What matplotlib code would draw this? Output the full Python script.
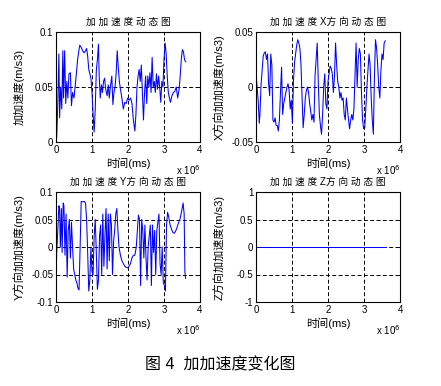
import numpy as np
import matplotlib
matplotlib.use('Agg')
import matplotlib.pyplot as plt
from matplotlib.ticker import FuncFormatter

plt.rcParams['font.family'] = ['Liberation Sans', 'Noto Sans CJK SC']
plt.rcParams['axes.unicode_minus'] = False

# time in units of 1e6 ms
ta = [0.00, 0.02, 0.05, 0.08, 0.10, 0.13, 0.16, 0.19, 0.21, 0.24,
      0.27, 0.30, 0.33, 0.36, 0.40, 0.43, 0.46, 0.50, 0.53, 0.56,
      0.60, 0.63, 0.66, 0.70, 0.74, 0.78, 0.82, 0.85, 0.88, 0.91,
      0.94, 0.97, 1.00, 1.03, 1.06, 1.09, 1.12, 1.15, 1.18, 1.20,
      1.23, 1.26, 1.29, 1.32, 1.35, 1.38, 1.42, 1.45, 1.48, 1.51,
      1.55, 1.58, 1.61, 1.64, 1.67, 1.70, 1.73, 1.76, 1.79, 1.83,
      1.87, 1.91, 1.95, 1.99, 2.03, 2.07, 2.11, 2.15, 2.19, 2.22,
      2.25, 2.28, 2.31, 2.34, 2.37, 2.40, 2.43, 2.46, 2.49, 2.52,
      2.55, 2.58, 2.61, 2.64, 2.67, 2.70, 2.73, 2.76, 2.79, 2.82,
      2.85, 2.88, 2.91, 2.94, 2.97, 3.00, 3.03, 3.06, 3.09, 3.12,
      3.15, 3.18, 3.22, 3.26, 3.30, 3.34, 3.38, 3.42, 3.45, 3.48,
      3.51, 3.54, 3.57, 3.60]
jerk = [0.068, 0.004, 0.035, 0.080, 0.022, 0.050, 0.030, 0.083, 0.040, 0.083,
        0.035, 0.055, 0.040, 0.062, 0.063, 0.033, 0.045, 0.040, 0.050, 0.060,
        0.075, 0.082, 0.088, 0.086, 0.083, 0.081, 0.083, 0.085, 0.078, 0.066,
        0.062, 0.058, 0.045, 0.025, 0.009, 0.030, 0.065, 0.075, 0.089, 0.060,
        0.040, 0.052, 0.045, 0.055, 0.058, 0.048, 0.042, 0.052, 0.040, 0.050,
        0.060, 0.034, 0.045, 0.050, 0.062, 0.083, 0.068, 0.055, 0.048, 0.040,
        0.030, 0.036, 0.035, 0.040, 0.038, 0.040, 0.035, 0.020, 0.010, 0.025,
        0.050, 0.060, 0.066, 0.055, 0.070, 0.045, 0.020, 0.045, 0.060, 0.035,
        0.060, 0.050, 0.063, 0.045, 0.077, 0.050, 0.055, 0.045, 0.062, 0.048,
        0.060, 0.050, 0.036, 0.055, 0.050, 0.075, 0.090, 0.080, 0.060, 0.045,
        0.040, 0.036, 0.042, 0.045, 0.046, 0.050, 0.040, 0.048, 0.060, 0.075,
        0.084, 0.082, 0.075, 0.073]

tb = [0.00, 0.03, 0.06, 0.09, 0.11, 0.14, 0.17, 0.20, 0.23, 0.26,
      0.29, 0.32, 0.35, 0.38, 0.41, 0.44, 0.47, 0.50, 0.53, 0.56,
      0.59, 0.62, 0.65, 0.68, 0.71, 0.74, 0.77, 0.80, 0.83, 0.86,
      0.89, 0.92, 0.95, 0.98, 1.01, 1.04, 1.07, 1.10, 1.13, 1.16,
      1.19, 1.22, 1.25, 1.28, 1.31, 1.34, 1.37, 1.40, 1.43, 1.46,
      1.49, 1.52, 1.55, 1.58, 1.61, 1.64, 1.67, 1.70, 1.73, 1.76,
      1.79, 1.82, 1.85, 1.88, 1.91, 1.94, 1.97, 2.00, 2.03, 2.06,
      2.09, 2.12, 2.15, 2.18, 2.21, 2.24, 2.27, 2.30, 2.33, 2.36,
      2.39, 2.42, 2.45, 2.48, 2.51, 2.54, 2.57, 2.60, 2.63, 2.66,
      2.69, 2.72, 2.75, 2.78, 2.81, 2.84, 2.87, 2.90, 2.93, 2.96,
      2.99, 3.02, 3.05, 3.08, 3.11, 3.14, 3.17, 3.20, 3.23, 3.26,
      3.29, 3.32, 3.35, 3.38, 3.41, 3.44, 3.47, 3.50, 3.53, 3.56, 3.59]
jerk_x = [0.012, 0.000, -0.012, -0.033, -0.025, 0.002, 0.015, 0.028, 0.031, 0.032,
          0.025, 0.030, 0.003, -0.008, 0.030, 0.020, -0.030, -0.032, -0.028, -0.035,
          -0.035, -0.040, -0.030, -0.005, 0.018, -0.025, -0.015, -0.010, -0.005, 0.000,
          0.003, -0.003, -0.020, -0.012, -0.033, 0.005, 0.022, 0.030, 0.038, 0.043,
          0.040, 0.035, 0.020, -0.010, -0.037, -0.025, -0.010, -0.003, 0.000, -0.005,
          -0.015, -0.022, -0.030, -0.025, -0.032, 0.010, 0.025, 0.040, 0.005, -0.025,
          -0.035, -0.043, -0.025, 0.000, 0.012, -0.015, -0.020, 0.005, 0.012, 0.019,
          0.017, 0.012, -0.005, 0.010, 0.040, 0.020, 0.005, 0.000, -0.010, -0.005,
          -0.012, -0.010, -0.025, -0.030, -0.010, -0.020, -0.030, -0.038, -0.030, -0.025,
          -0.030, -0.020, 0.010, 0.040, 0.000, 0.025, 0.035, 0.030, -0.005, -0.030,
          -0.038, -0.037, -0.020, 0.000, 0.015, 0.030, 0.020, -0.010, -0.030, -0.043,
          0.010, 0.043, 0.035, 0.020, 0.000, -0.010, 0.015, 0.030, 0.025, 0.040, 0.042]

tc = [0.00, 0.02, 0.05, 0.08, 0.10, 0.12, 0.15, 0.17, 0.20, 0.22,
      0.25, 0.28, 0.31, 0.34, 0.37, 0.40, 0.43, 0.46, 0.49, 0.52,
      0.55, 0.58, 0.61, 0.64, 0.67, 0.70, 0.74, 0.78, 0.82, 0.85,
      0.88, 0.91, 0.94, 0.97, 1.00, 1.03, 1.06, 1.09, 1.12, 1.15,
      1.18, 1.21, 1.24, 1.27, 1.30, 1.33, 1.36, 1.39, 1.42, 1.45,
      1.48, 1.51, 1.54, 1.57, 1.60, 1.63, 1.66, 1.69, 1.72, 1.75,
      1.79, 1.83, 1.87, 1.91, 1.95, 1.99, 2.03, 2.07, 2.11, 2.15,
      2.19, 2.23, 2.26, 2.29, 2.32, 2.35, 2.38, 2.41, 2.44, 2.47,
      2.50, 2.53, 2.56, 2.59, 2.62, 2.65, 2.68, 2.71, 2.74, 2.77,
      2.80, 2.83, 2.86, 2.89, 2.92, 2.95, 2.98, 3.01, 3.04, 3.07,
      3.10, 3.13, 3.17, 3.21, 3.25, 3.29, 3.33, 3.37, 3.41, 3.45,
      3.49, 3.53, 3.56, 3.58, 3.60]
jerk_y = [-0.060, -0.010, 0.030, 0.075, 0.070, 0.000, 0.070, -0.010, 0.080, 0.075,
          -0.015, 0.060, -0.055, 0.030, 0.050, -0.020, 0.045, 0.000, -0.040, -0.050,
          -0.060, -0.065, -0.075, -0.078, 0.000, 0.083, 0.082, 0.083, 0.080, 0.050,
          -0.010, -0.080, -0.060, 0.000, -0.045, -0.050, 0.020, 0.050, -0.010, -0.077,
          -0.060, 0.020, 0.040, -0.050, 0.060, -0.035, 0.020, 0.070, -0.040, 0.060,
          -0.025, 0.060, 0.040, -0.050, 0.010, 0.030, 0.060, 0.070, 0.030, 0.000,
          -0.015, -0.025, -0.030, -0.035, -0.037, -0.038, -0.035, -0.030, -0.020, -0.015,
          -0.015, 0.000, 0.030, 0.058, 0.050, -0.070, 0.050, 0.030, -0.020, 0.040,
          -0.020, -0.060, 0.000, 0.020, 0.040, -0.070, 0.040, -0.010, 0.030, -0.050,
          0.030, 0.045, 0.060, -0.030, -0.050, 0.000, -0.065, -0.070, -0.080, 0.040,
          0.063, 0.055, 0.040, 0.032, 0.026, 0.025, 0.030, 0.037, 0.045, 0.052,
          0.065, 0.080, 0.060, -0.045, -0.057]

tz = [0.00, 3.60]
jerk_z = [0.0, 0.0]

titles = ['加 加 速 度 动 态 图', '加 加 速 度 X方 向 动 态 图',
          '加 加 速 度 Y方 向 动 态 图', '加 加 速 度 Z方 向 动 态 图']
ylabels = ['加加速度(m/s3)', 'X方向加加速度(m/s3)', 'Y方向加加速度(m/s3)', 'Z方向加加速度(m/s3)']
yticks = [[0, 0.05, 0.1], [-0.05, 0, 0.05], [-0.1, -0.05, 0, 0.05, 0.1], [-1, -0.5, 0, 0.5, 1]]
xticks = [0, 1, 2, 3, 4]

fig = plt.figure(figsize=(4.41, 3.86), dpi=100)
W, H = 441.0, 386.0
boxes = [(56, 32), (256, 32), (56, 192), (256, 192)]
series = [(ta, jerk), (tb, jerk_x), (tc, jerk_y), (tz, jerk_z)]

fmt = FuncFormatter(lambda v, p: '%g' % v)
xfmt = FuncFormatter(lambda v, p: '%g' % (v / 1e6))

for i in range(4):
    x0, y0 = boxes[i]
    ax = fig.add_axes([x0 / W, 1 - (y0 + 110) / H, 144 / W, 110 / H])
    t, y = series[i]
    ax.plot(np.array(t) * 1e6, y, color='#0000ff', lw=0.75)
    ax.set_xlim(0, 4e6)
    ax.set_ylim(yticks[i][0], yticks[i][-1])
    ax.set_xticks([v * 1e6 for v in xticks])
    ax.set_yticks(yticks[i])
    ax.xaxis.set_major_formatter(xfmt)
    ax.yaxis.set_major_formatter(fmt)
    ax.grid(True, color='black', linestyle=(0, (4, 2.5)), lw=0.7)
    ax.tick_params(direction='in', length=2, width=0.6, labelsize=7, pad=2,
                   top=True, right=True)
    for s in ax.spines.values():
        s.set_linewidth(0.8)
    ax.set_title(titles[i], fontsize=7, pad=5)
    ax.set_xlabel('时间(ms)', fontsize=8, labelpad=2)
    ax.set_ylabel(ylabels[i], fontsize=8)
    ax.yaxis.set_label_coords(-0.22, 0.5)
    ax.text(1.0, -0.19, 'x 10$^{6}$', transform=ax.transAxes, ha='right', va='top', fontsize=7)

fig.text(0.5, 1 - 365 / H, '图 4  加加速度变化图', ha='center', va='center', fontsize=11.5)

fig.savefig('out.png', dpi=100)
